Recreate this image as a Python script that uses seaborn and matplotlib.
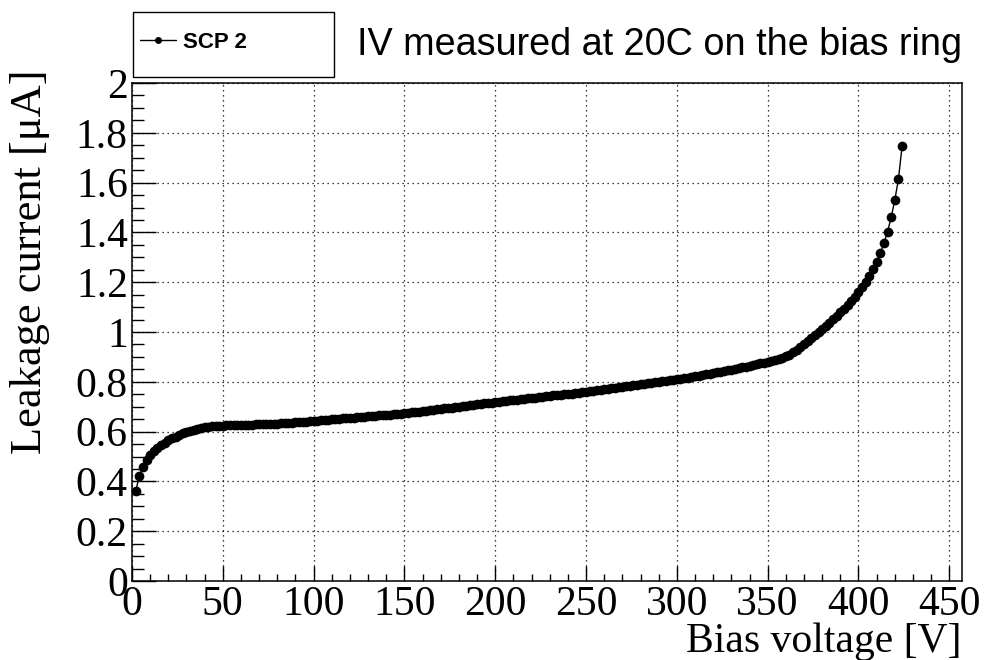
import matplotlib
matplotlib.use("Agg")
import matplotlib.pyplot as plt
import seaborn as sns
import pandas as pd
from matplotlib.patches import Rectangle
from matplotlib.ticker import MultipleLocator

# ---------------- data ----------------
bias_voltage = [
    2, 4, 6, 8, 10, 12, 14, 16, 18, 20, 22, 24, 26, 28, 30, 32, 34, 36, 38, 40, 42, 44, 46, 48, 50,
    52, 54, 56, 58, 60, 62, 64, 66, 68, 70, 72, 74, 76, 78, 80, 82, 84, 86, 88, 90, 92, 94, 96, 98, 100,
    102, 104, 106, 108, 110, 112, 114, 116, 118, 120, 122, 124, 126, 128, 130, 132, 134, 136, 138, 140,
    142, 144, 146, 148, 150,
    152, 154, 156, 158, 160, 162, 164, 166, 168, 170, 172, 174, 176, 178, 180, 182, 184, 186, 188, 190,
    192, 194, 196, 198, 200,
    202, 204, 206, 208, 210, 212, 214, 216, 218, 220, 222, 224, 226, 228, 230, 232, 234, 236, 238, 240,
    242, 244, 246, 248, 250,
    252, 254, 256, 258, 260, 262, 264, 266, 268, 270, 272, 274, 276, 278, 280, 282, 284, 286, 288, 290,
    292, 294, 296, 298, 300,
    302, 304, 306, 308, 310, 312, 314, 316, 318, 320, 322, 324, 326, 328, 330, 332, 334, 336, 338, 340,
    342, 344, 346, 348, 350,
    352, 354, 356, 358, 360, 362, 364, 366, 368, 370, 372, 374, 376, 378, 380, 382, 384, 386, 388, 390,
    392, 394, 396, 398, 400,
    402, 404, 406, 408, 410, 412, 414, 416, 418, 420, 422, 424,
]
leakage_current = [
    0.360, 0.420, 0.456, 0.484, 0.505, 0.521, 0.535, 0.546, 0.556, 0.565, 0.573, 0.580, 0.587, 0.593,
    0.598, 0.603, 0.607, 0.611, 0.614, 0.617, 0.619, 0.621, 0.622, 0.623, 0.624,
    0.625, 0.625, 0.626, 0.626, 0.627, 0.627, 0.628, 0.628, 0.629, 0.629, 0.630, 0.630, 0.631, 0.631,
    0.632, 0.633, 0.634, 0.635, 0.636, 0.637, 0.638, 0.639, 0.640, 0.641, 0.642,
    0.644, 0.645, 0.647, 0.648, 0.649, 0.650, 0.652, 0.653, 0.654, 0.655, 0.656, 0.658, 0.659, 0.660,
    0.661, 0.662, 0.664, 0.665, 0.666, 0.667, 0.668, 0.670, 0.671, 0.672, 0.673,
    0.675, 0.677, 0.678, 0.680, 0.682, 0.684, 0.686, 0.687, 0.689, 0.691, 0.693, 0.695, 0.696, 0.698,
    0.700, 0.702, 0.704, 0.705, 0.707, 0.709, 0.711, 0.713, 0.714, 0.716, 0.718,
    0.720, 0.721, 0.723, 0.725, 0.726, 0.728, 0.730, 0.731, 0.733, 0.735, 0.736, 0.738, 0.740, 0.741,
    0.743, 0.745, 0.746, 0.748, 0.750, 0.752, 0.753, 0.755, 0.757, 0.758, 0.760,
    0.762, 0.764, 0.766, 0.768, 0.770, 0.772, 0.774, 0.776, 0.778, 0.780, 0.782, 0.784, 0.786, 0.788,
    0.790, 0.792, 0.794, 0.796, 0.798, 0.800, 0.802, 0.804, 0.806, 0.808, 0.810,
    0.812, 0.815, 0.817, 0.820, 0.822, 0.825, 0.827, 0.830, 0.832, 0.835, 0.838, 0.841, 0.843, 0.846,
    0.849, 0.852, 0.855, 0.858, 0.861, 0.864, 0.867, 0.870, 0.874, 0.877, 0.880,
    0.884, 0.887, 0.891, 0.896, 0.902, 0.909, 0.918, 0.929, 0.941, 0.953, 0.965, 0.977, 0.989, 1.001,
    1.013, 1.025, 1.038, 1.051, 1.065, 1.079, 1.093, 1.108, 1.124, 1.141, 1.159,
    1.179, 1.200, 1.226, 1.252, 1.283, 1.316, 1.356, 1.403, 1.460, 1.530, 1.614, 1.745,
]
series_name = "SCP 2"
title_text = "IV measured at 20C on the bias ring"
x_label = "Bias voltage [V]"
y_label = "Leakage current [\u03bcA]"
x_ticks = [0, 50, 100, 150, 200, 250, 300, 350, 400, 450]
y_ticks = [0, 0.2, 0.4, 0.6, 0.8, 1, 1.2, 1.4, 1.6, 1.8, 2]
y_tick_labels = ["0", "0.2", "0.4", "0.6", "0.8", "1", "1.2", "1.4", "1.6", "1.8", "2"]

df = pd.DataFrame({"V": bias_voltage, "I": leakage_current, "series": series_name})

# ---------------- style ----------------
sns.set_style("white")
plt.rcParams["font.family"] = ["Liberation Serif", "DejaVu Serif"]
plt.rcParams["text.color"] = "black"
plt.rcParams["xtick.color"] = "black"
plt.rcParams["ytick.color"] = "black"
plt.rcParams["xtick.labelcolor"] = "black"
plt.rcParams["ytick.labelcolor"] = "black"

W, H = 986, 660
fig = plt.figure(figsize=(W / 100, H / 100), dpi=100)
ax = fig.add_axes([132 / W, 1 - 581 / H, (962 - 132) / W, (581 - 83) / H])

sns.lineplot(data=df, x="V", y="I", hue="series", palette=["black"], marker="o",
             markersize=7.0, markeredgewidth=0, linewidth=1.0, ax=ax, legend=False,
             estimator=None, sort=False)
line = ax.lines[0]

ax.set_xlim(0, 457)
ax.set_ylim(0, 2.0)
ax.set_xticks(x_ticks)
ax.set_xticklabels([str(t) for t in x_ticks])
ax.set_yticks(y_ticks)
ax.set_yticklabels(y_tick_labels)
ax.xaxis.set_minor_locator(MultipleLocator(10))
ax.yaxis.set_minor_locator(MultipleLocator(0.05))

ax.tick_params(axis="x", which="major", direction="in", length=10.8, width=1.0,
               labelsize=30, pad=3, bottom=True, top=False, colors="black")
ax.tick_params(axis="x", which="minor", direction="in", length=5.4, width=1.0,
               bottom=True, top=False)
ax.tick_params(axis="y", which="major", direction="in", length=17, width=1.0,
               labelsize=30, pad=3, left=True, right=False, colors="black")
ax.tick_params(axis="y", which="minor", direction="in", length=8.5, width=1.0,
               left=True, right=False)

for s in ax.spines.values():
    s.set_color("black")
    s.set_linewidth(1.1)

ax.grid(True, which="major", color="black", linestyle=(0, (1, 3)), linewidth=0.9)
ax.set_axisbelow(True)
ax.set_xlabel("")
ax.set_ylabel("")

# axis titles (ROOT style: aligned at the axis ends)
fig.text(962 / W, 1 - 642 / H, x_label, ha="right", va="center", fontsize=30)
fig.text(30 / W, 1 - 69 / H, y_label, ha="center", va="top", rotation=90, fontsize=32)

# title
fig.text(962 / W, 1 - 45 / H, title_text, ha="right", va="center", fontsize=27.2,
         family=["Liberation Sans", "DejaVu Sans"])

# legend box
fig.add_artist(Rectangle((133 / W, 1 - 77 / H), (334 - 133) / W, (77 - 12) / H,
                         transform=fig.transFigure, fill=False, edgecolor="black",
                         linewidth=1.0))
leg = fig.legend([line], [series_name], loc="center left",
                 bbox_to_anchor=(140 / W, 1 - 42 / H), frameon=False,
                 borderpad=0, borderaxespad=0, handlelength=1.6, handletextpad=0.35,
                 prop={"family": ["Liberation Sans", "DejaVu Sans"], "weight": "bold",
                       "size": 16})
for h in leg.legend_handles:
    h.set_markersize(5)

fig.savefig("out.png", dpi=100)
